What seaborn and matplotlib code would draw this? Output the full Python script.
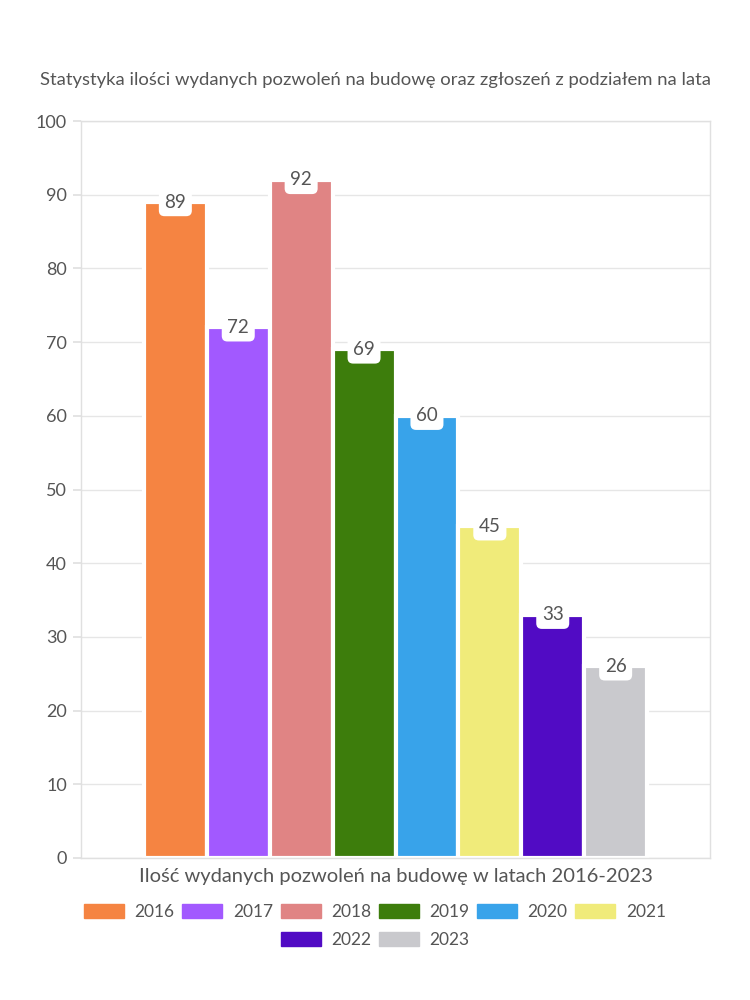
import matplotlib
matplotlib.use("Agg")
import matplotlib.pyplot as plt
import matplotlib.patches as mpatches
import seaborn as sns
import pandas as pd

years = ["2016", "2017", "2018", "2019", "2020", "2021", "2022", "2023"]
values = [89, 72, 92, 69, 60, 45, 33, 26]
colors = ["#F58442", "#A259FF", "#E08484", "#3D7D0C", "#38A3EA", "#F0EB7A", "#510BC4", "#C9C9CD"]
title = "Statystyka ilości wydanych pozwoleń na budowę oraz zgłoszeń z podziałem na lata"
xlabel = "Ilość wydanych pozwoleń na budowę w latach 2016-2023"
yticks = [0, 10, 20, 30, 40, 50, 60, 70, 80, 90, 100]

sns.set_theme(style="white")
plt.rcParams['font.family'] = ['Lato', 'DejaVu Sans']
txt = "#555555"

df = pd.DataFrame({"cat": ["x"] * len(years), "year": years, "value": values})

fig = plt.figure(figsize=(7.5, 10), dpi=100)
ax = fig.add_axes([81/750, 1 - 858/1000, (710-81)/750, (858-121)/1000])
sns.barplot(data=df, x="cat", y="value", hue="year", hue_order=years,
            palette=colors, width=0.8, ax=ax, legend=False,
            edgecolor="white", linewidth=3, saturation=1)

ax.set_ylim(0, 100)
ax.set_xlim(-0.5, 0.5)
ax.set_yticks(yticks)
ax.set_yticklabels([str(t) for t in yticks], color=txt, fontsize=13)
ax.set_xticks([])
ax.grid(axis="y", color="#e6e6e6", linewidth=1)
ax.set_axisbelow(True)
for s in ax.spines.values():
    s.set_color("#e0e0e0")
    s.set_linewidth(1)
ax.tick_params(axis="y", length=6, color="#e0e0e0", pad=4, left=True)
ax.set_ylabel("")
ax.set_xlabel(xlabel, color=txt, fontsize=14.5, labelpad=7, fontweight="normal")

for cont in ax.containers:
    for bar in cont:
        h = bar.get_height()
        ax.annotate(f"{int(round(h))}", (bar.get_x() + bar.get_width()/2, h),
                    ha="center", va="center", fontsize=13.5, color=txt,
                    bbox=dict(boxstyle="round,pad=0.3,rounding_size=0.3",
                              fc="white", ec="none"))

fig.text(40/750, 1 - 80/1000, title, fontsize=13.3, color=txt, ha="left", va="center")

handles = [mpatches.Patch(color=c, label=y) for c, y in zip(colors, years)]
kw = dict(frameon=False, fontsize=12.5, labelcolor=txt,
          handlelength=2.3, handleheight=0.92, columnspacing=0.45, handletextpad=0.6,
          borderpad=0.2)
fig.legend(handles[:6], years[:6], loc="center",
           bbox_to_anchor=(0.5, 1 - 912/1000), ncol=6, **kw)
fig.legend(handles[6:], years[6:], loc="center",
           bbox_to_anchor=(0.5, 1 - 940/1000), ncol=2, **kw)

fig.savefig("out.png", dpi=100)
